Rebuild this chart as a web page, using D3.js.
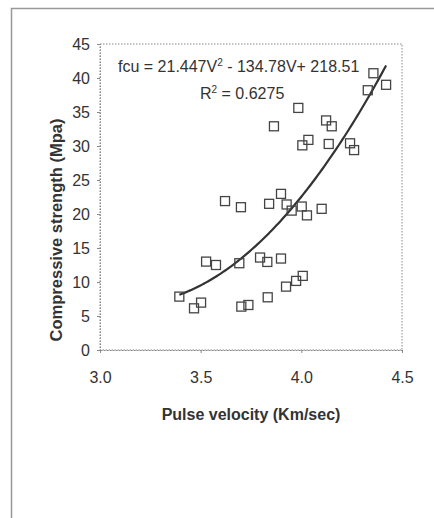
<!DOCTYPE html>
<html><head><meta charset="utf-8">
<script src="https://cdn.jsdelivr.net/npm/d3@7"></script>
<style>
html,body{margin:0;padding:0;background:#fff;}
svg{display:block;font-family:"Liberation Sans",Arial,sans-serif;}
</style></head>
<body>
<svg id="c" width="434" height="518"></svg>
<script>
const velocity = [3.394,3.467,3.502,3.527,3.576,3.621,3.692,3.700,3.702,3.737,3.795,3.831,3.833,3.840,3.864,3.899,3.899,3.924,3.927,3.952,3.974,3.985,4.005,4.002,4.007,4.028,4.035,4.101,4.123,4.151,4.136,4.242,4.262,4.330,4.358,4.421];
const strength = [7.85,6.13,6.97,13.0,12.5,21.9,12.76,21.0,6.38,6.62,13.6,12.95,7.75,21.5,32.9,13.45,22.96,9.32,21.4,20.5,10.16,35.6,30.1,21.1,10.9,19.8,30.9,20.76,33.76,32.9,30.3,30.4,29.4,38.2,40.7,39.0];
const trendCoef = [21.447, -134.78, 218.51]; // fcu = a V^2 + b V + c
const trendRange = [3.394, 4.421];
const xTicks = [3.0, 3.5, 4.0, 4.5];
const yTicks = [0,5,10,15,20,25,30,35,40,45];

(function(){
const svg = d3.select("#c");
const pL=100,pR=402,pT=44,pB=350;
const x = d3.scaleLinear().domain([3.0,4.5]).range([pL,pR]);
const y = d3.scaleLinear().domain([0,45]).range([pB,pT]);
const ink = "#333";

svg.append("rect").attr("x",11.5).attr("y",8.5).attr("width",440).attr("height",520)
  .attr("fill","none").attr("stroke","#999").attr("stroke-width",1.5);

svg.append("rect").attr("x",pL).attr("y",pT).attr("width",pR-pL).attr("height",pB-pT)
  .attr("fill","none").attr("stroke","#888").attr("stroke-width",1).attr("stroke-dasharray","1.5,1.5");

const ya = svg.append("g").attr("transform",`translate(${pL},0)`)
  .call(d3.axisLeft(y).tickValues(yTicks).tickSize(3).tickPadding(7).tickFormat(d3.format("d")));
ya.select(".domain").attr("stroke","#888").attr("stroke-dasharray","1.5,1.5");
ya.selectAll(".tick line").attr("stroke","#888");
ya.selectAll("text").attr("font-size",16).attr("fill",ink).attr("font-family","Liberation Sans, Arial, sans-serif");

const xa = svg.append("g").attr("transform",`translate(0,${pB})`)
  .call(d3.axisBottom(x).tickValues(xTicks).tickSize(3).tickPadding(19).tickFormat(d3.format(".1f")));
xa.select(".domain").attr("stroke","#888").attr("stroke-dasharray","1.5,1.5");
xa.selectAll(".tick line").attr("stroke","#888");
xa.selectAll("text").attr("font-size",16).attr("fill",ink).attr("font-family","Liberation Sans, Arial, sans-serif");

svg.append("text").attr("x",251).attr("y",420).attr("text-anchor","middle")
  .attr("font-size",16).attr("font-weight","bold").attr("fill",ink).text("Pulse velocity (Km/sec)");
svg.append("text").attr("transform","translate(62,230) rotate(-90)").attr("text-anchor","middle")
  .attr("font-size",16.5).attr("font-weight","bold").attr("fill",ink).text("Compressive strength (Mpa)");

const tv = d3.range(0,101).map(i=>trendRange[0]+(trendRange[1]-trendRange[0])*i/100);
const line = d3.line().x(v=>x(v)).y(v=>y(trendCoef[0]*v*v+trendCoef[1]*v+trendCoef[2]));
svg.append("path").attr("d",line(tv)).attr("fill","none").attr("stroke","#333").attr("stroke-width",2.2);

const s=9;
svg.append("g").selectAll("rect").data(velocity.map((v,i)=>[v,strength[i]])).join("rect")
  .attr("x",d=>x(d[0])-s/2).attr("y",d=>y(d[1])-s/2).attr("width",s).attr("height",s)
  .attr("fill","none").attr("stroke","#444").attr("stroke-width",1.3);

const eq = svg.append("text").attr("x",118).attr("y",72).attr("font-size",16).attr("fill",ink);
eq.append("tspan").text("fcu = 21.447V");
eq.append("tspan").attr("font-size",10).attr("dy",-6).text("2");
eq.append("tspan").attr("dy",6).text(" - 134.78V+ 218.51");
const r2 = svg.append("text").attr("x",200).attr("y",99).attr("font-size",16).attr("fill",ink);
r2.append("tspan").text("R");
r2.append("tspan").attr("font-size",10).attr("dy",-6).text("2");
r2.append("tspan").attr("dy",6).text(" = 0.6275");
})();
</script>
</body></html>
